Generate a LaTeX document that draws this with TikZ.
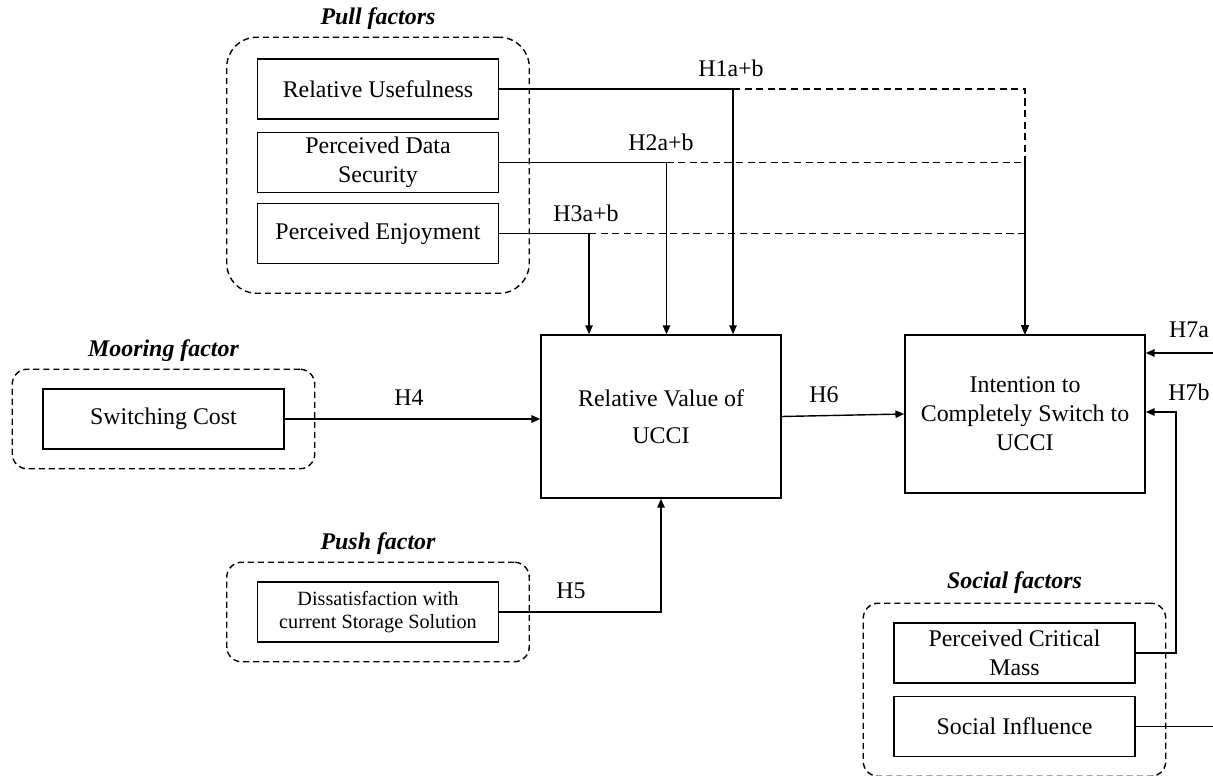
\documentclass[tikz,border=0pt]{standalone}
\usepackage{fontspec}
\setmainfont{Liberation Serif}
\usetikzlibrary{positioning, fit, arrows.meta}
\tikzset{
	font = \fontsize{13.6}{16.4}\selectfont,
	>={Triangle[length=5pt,width=4.2pt]},
	factor/.style={
		draw,
		line width=.9pt,
		minimum width=4.82cm,
		minimum height=1.2cm,
		align=center,
		inner sep=2pt
	},
	construct/.style={
		draw,
		line width=.9pt,
		minimum width=4.8cm,
		align=center
	},
	group/.style={
		draw,
		line width=.8pt,
		dash pattern=on 3.5pt off 2.2pt,
		rounded corners=.3cm,
		inner xsep=.6cm,
		inner ysep=.38cm
	},
	grouptitle/.style={
		font=\fontsize{13.6}{16}\selectfont\bfseries\itshape,
		inner sep=2pt
	},
	hyp/.style={inner sep=0pt},
	link/.style={
		->,
		line width=.8pt
	},
	dlink/.style={
		->,
		line width=.8pt,
		dash pattern=on 4pt off 2.6pt
	}
}

\begin{document}
\begin{tikzpicture}[x=0.02cm, y=-0.02cm]
% ---
% Push-pull-mooring model
% ---
\useasboundingbox (0,0) rectangle (1213,776);

\node[factor] at (378,89) (ru) {Relative Usefulness};
\node[factor] at (378,162.5) (pds) {Perceived Data\\Security};
\node[factor] at (378,233.5) (pe) {Perceived Enjoyment};
\node[factor] at (163.5,419) (sc) {Switching Cost};
\node[factor, font=\fontsize{11.5}{12.6}\selectfont] at (378,612) (dis) {Dissatisfaction with\\current Storage Solution};
\node[factor] at (1014.5,653) (pcm) {Perceived Critical\\Mass};
\node[factor] at (1014.5,726.5) (si) {Social Influence};

\node[construct, minimum height=3.26cm] at (661,416.5) (rv) {Relative Value of\\[4.5pt]UCCI};
\node[construct, minimum height=3.16cm] at (1025,414) (ic) {Intention to\\Completely Switch to\\UCCI};

\coordinate (pb) at ([yshift=-.16cm]pe.south);
\node[group, inner ysep=.42cm, rounded corners=.6cm, fit=(ru)(pe)(pb)] (pull) {};
\node[group, fit=(sc)] (moor) {};
\node[group, fit=(dis)] (push) {};
\node[group, fit=(pcm)(si)] (social) {};

\node[grouptitle, above=1.5pt of pull] (tpull) {Pull factors};
\node[grouptitle, above=1.5pt of moor] (tmoor) {Mooring factor};
\node[grouptitle, above=1.5pt of push] (tpush) {Push factor};
\node[grouptitle, above=3pt of social] (tsocial) {Social factors};

\coordinate (t1) at ([xshift=1.44cm]rv.north);
\coordinate (t2) at ([xshift=.11cm]rv.north);
\coordinate (t3) at ([xshift=-1.44cm]rv.north);
\coordinate (e7a) at (1213,353);
\coordinate (b7) at (1176,412);
\coordinate (e7c) at (1213,726.5);

\draw[link] (ru.east) -| (t1);
\draw[link] (pds.east) -| (t2);
\draw[link] (pe.east) -| (t3);
\draw[dlink] (t1 |- ru.east) -| (ic.north);
\draw[dlink] (t2 |- pds.east) -| (ic.north);
\draw[dlink] (t3 |- pe.east) -| (ic.north);

\draw[link] (sc.east) -- (sc.east -| rv.west);
\draw[link] (dis.east) -| (rv.south);
\draw[link] (rv.east) -- (ic.west);

\draw[link] (e7a) -- (e7a -| ic.east);
\draw[link] (pcm.east) -| (b7) -- (b7 -| ic.east);
\draw[line width=.8pt] (si.east) -- (e7c);

\node[hyp] at (731,68) (h1) {H1a+b};
\node[hyp] at (661,142) (h2) {H2a+b};
\node[hyp] at (586,213) (h3) {H3a+b};
\node[hyp] at (409,398) (h4) {H4};
\node[hyp] at (571,591) (h5) {H5};
\node[hyp] at (824,395) (h6) {H6};
\node[hyp] at (1189,330) (h7a) {H7a};
\node[hyp] at (1189,392) (h7b) {H7b};

\end{tikzpicture}
\end{document}
